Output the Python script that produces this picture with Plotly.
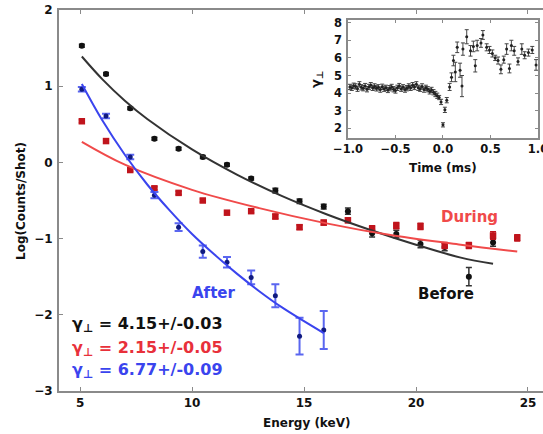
import plotly.graph_objects as go

# ---------------- main panel data ----------------
energy = [5.08, 6.16, 7.24, 8.32, 9.40, 10.48, 11.56, 12.64, 13.72, 14.80,
          15.88, 16.96, 18.04, 19.12, 20.20, 21.28, 22.36, 23.44, 24.52]

before_y = [1.53, 1.16, 0.71, 0.31, 0.18, 0.07, -0.03, -0.21, -0.37, -0.51,
            -0.58, -0.64, -0.93, -0.94, -1.07, -1.11, -1.50, -1.05]
before_err = [0.02, 0.02, 0.02, 0.02, 0.02, 0.02, 0.02, 0.02, 0.03, 0.03,
              0.03, 0.04, 0.05, 0.05, 0.05, 0.05, 0.12, 0.05]

during_y = [0.54, 0.28, -0.10, -0.34, -0.40, -0.50, -0.66, -0.64, -0.71, -0.85,
            -0.79, -0.76, -0.87, -0.83, -0.84, -1.09, -1.09, -0.96, -0.99]
during_err = [0.02, 0.02, 0.02, 0.02, 0.02, 0.02, 0.02, 0.02, 0.03, 0.03,
              0.03, 0.03, 0.04, 0.04, 0.04, 0.04, 0.04, 0.05, 0.04]

after_y = [0.96, 0.61, 0.07, -0.43, -0.85, -1.17, -1.31, -1.51, -1.75, -2.28, -2.20]
after_err = [0.03, 0.03, 0.03, 0.04, 0.05, 0.08, 0.07, 0.09, 0.15, 0.24, 0.25]

# fitted curves
fit_before_e = [5.08, 6, 7, 8, 10, 12, 14, 16, 18, 20, 22, 23.44]
fit_before_y = [1.39, 1.09, 0.81, 0.57, 0.17, -0.16, -0.44, -0.68, -0.89, -1.08, -1.25, -1.33]
fit_during_e = [5.08, 7, 10, 13, 16, 19, 22, 24.52]
fit_during_y = [0.27, -0.03, -0.36, -0.60, -0.80, -0.96, -1.08, -1.17]
fit_after_e = [5.08, 6, 7, 8, 9, 10, 11, 12, 13, 14, 15.88]
fit_after_y = [1.03, 0.55, 0.10, -0.29, -0.63, -0.94, -1.21, -1.46, -1.69, -1.90, -2.24]

x_ticks = [5, 10, 15, 20, 25]
y_ticks = [-3, -2, -1, 0, 1, 2]

# ---------------- inset data ----------------
t_inset = [-0.98, -0.96, -0.94, -0.92, -0.90, -0.88, -0.86, -0.84, -0.82, -0.80,
           -0.78, -0.76, -0.74, -0.72, -0.70, -0.68, -0.66, -0.64, -0.62, -0.60,
           -0.58, -0.56, -0.54, -0.52, -0.50, -0.48, -0.46, -0.44, -0.42, -0.40,
           -0.38, -0.36, -0.34, -0.32, -0.30, -0.28, -0.26, -0.24, -0.22, -0.20,
           -0.18, -0.16, -0.14, -0.12, -0.10, -0.08, -0.06, -0.04, -0.02, 0.00,
           0.02, 0.04, 0.07, 0.09, 0.11, 0.13, 0.15, 0.18, 0.20, 0.21,
           0.25, 0.29, 0.32, 0.34, 0.36, 0.40, 0.42, 0.46, 0.49, 0.52,
           0.55, 0.58, 0.61, 0.64, 0.67, 0.70, 0.72, 0.75, 0.79, 0.83,
           0.86, 0.90, 0.94, 0.98]
g_inset = [4.35, 4.30, 4.42, 4.38, 4.25, 4.50, 4.33, 4.28, 4.40, 4.22,
           4.35, 4.45, 4.30, 4.38, 4.27, 4.33, 4.20, 4.36, 4.25, 4.30,
           4.18, 4.28, 4.35, 4.22, 4.15, 4.30, 4.40, 4.25, 4.33, 4.20,
           4.28, 4.38, 4.30, 4.45, 4.35, 4.50, 4.30, 4.25, 4.38, 4.20,
           4.30, 4.22, 4.10, 4.18, 4.05, 3.95, 3.85, 3.75, 3.50, 2.20,
           3.05, 3.60, 4.35, 4.90, 5.85, 5.20, 6.60, 5.30, 4.40, 6.50,
           7.20, 6.40, 6.65, 5.55, 6.70, 6.85, 7.30, 6.60, 6.45, 6.25,
           6.00, 5.85, 5.35, 5.90, 6.50, 5.40, 6.70, 6.40, 5.80, 6.50,
           6.15, 6.30, 6.45, 5.60]
g_err = [0.15, 0.15, 0.15, 0.15, 0.15, 0.15, 0.15, 0.15, 0.15, 0.15,
         0.15, 0.15, 0.15, 0.15, 0.15, 0.15, 0.15, 0.15, 0.15, 0.15,
         0.15, 0.15, 0.15, 0.15, 0.15, 0.15, 0.15, 0.15, 0.15, 0.15,
         0.15, 0.15, 0.15, 0.15, 0.15, 0.15, 0.15, 0.15, 0.15, 0.15,
         0.15, 0.15, 0.15, 0.15, 0.15, 0.15, 0.15, 0.12, 0.15, 0.12,
         0.15, 0.15, 0.20, 0.25, 0.30, 0.55, 0.30, 0.40, 0.60, 0.35,
         0.40, 0.30, 0.30, 0.35, 0.30, 0.25, 0.25, 0.20, 0.20, 0.20,
         0.15, 0.20, 0.25, 0.20, 0.30, 0.25, 0.30, 0.25, 0.20, 0.30,
         0.20, 0.20, 0.20, 0.30]
inset_x_ticks = [-1.0, -0.5, 0.0, 0.5, 1.0]
inset_x_labels = ["−1.0", "−0.5", "0.0", "0.5", "1.0"]
inset_y_ticks = [2, 3, 4, 5, 6, 7, 8]

# ---------------- styling ----------------
FONT = "DejaVu Sans"
BLACK = "#111111"
RED_M = "#c0141c"
RED_L = "#f04a4a"
BLUE_L = "#3a44ee"
AXIS = "#8a8a8a"

W, H = 543, 434
L, R, T, B = 59, 0, 10, 43
PW, PH = W - L - R, H - T - B

def px(xp):
    return (xp - L) / PW

def py(yp):
    return (H - B - yp) / PH

fig = go.Figure()

# data points
fig.add_trace(go.Scatter(
    x=energy[:len(before_y)], y=before_y, mode="markers",
    marker=dict(symbol="circle", size=6, color=BLACK),
    error_y=dict(type="data", array=before_err, color="#333333", thickness=1.5, width=3),
    showlegend=False))
fig.add_trace(go.Scatter(
    x=energy, y=during_y, mode="markers",
    marker=dict(symbol="square", size=6.5, color=RED_M),
    error_y=dict(type="data", array=during_err, color=RED_M, thickness=1.5, width=3),
    showlegend=False))
fig.add_trace(go.Scatter(
    x=energy[:len(after_y)], y=after_y, mode="markers",
    marker=dict(symbol="circle", size=5, color="#101a80"),
    error_y=dict(type="data", array=after_err, color="#5a66f0", thickness=2, width=4),
    showlegend=False))

# fit curves
fig.add_trace(go.Scatter(x=fit_before_e, y=fit_before_y, mode="lines",
                         line=dict(color="#333333", width=2, shape="spline"), showlegend=False))
fig.add_trace(go.Scatter(x=fit_during_e, y=fit_during_y, mode="lines",
                         line=dict(color=RED_L, width=2, shape="spline"), showlegend=False))
fig.add_trace(go.Scatter(x=fit_after_e, y=fit_after_y, mode="lines",
                         line=dict(color=BLUE_L, width=2, shape="spline"), showlegend=False))

# inset
fig.add_trace(go.Scatter(
    x=t_inset, y=g_inset, mode="markers", xaxis="x2", yaxis="y2",
    marker=dict(symbol="circle", size=3, color="#222222"),
    error_y=dict(type="data", array=g_err, color="#444444", thickness=1, width=2),
    showlegend=False))

tick_font = dict(family=FONT, size=12, color="#111111", weight="bold")
inset_font = dict(family=FONT, size=11.5, color="#111111", weight="bold")

fig.update_layout(
    width=W, height=H,
    margin=dict(l=L, r=R, t=T, b=B, autoexpand=False),
    paper_bgcolor="white", plot_bgcolor="white",
    font=dict(family=FONT, color="#111111"),
    xaxis=dict(range=[4.06, 25.67], tickvals=x_ticks, ticks="inside", ticklen=4,
               tickcolor=AXIS, tickwidth=1, showline=True, linecolor=AXIS, linewidth=2,
               mirror="ticks", showgrid=False, zeroline=False, tickfont=tick_font,
               automargin=False),
    yaxis=dict(range=[-3, 2], tickvals=y_ticks, ticks="inside", ticklen=4,
               tickcolor=AXIS, tickwidth=1, showline=True, linecolor=AXIS, linewidth=2,
               showgrid=False, zeroline=False, tickfont=tick_font, ticklabelstandoff=2,
               automargin=False),
    xaxis2=dict(domain=[px(348), px(538)], anchor="y2", range=[-1.0, 1.0005],
                tickvals=inset_x_ticks, ticktext=inset_x_labels, ticks="inside", ticklen=3,
                tickcolor=AXIS, showline=True, linecolor=AXIS, linewidth=1.5, mirror="ticks",
                showgrid=False, zeroline=False, tickfont=inset_font,
                ticklabeloverflow="allow", automargin=False),
    yaxis2=dict(domain=[py(137.7), py(20)], anchor="x2", range=[1.47, 8.15],
                tickvals=inset_y_ticks, ticks="inside", ticklen=3,
                tickcolor=AXIS, showline=True, linecolor=AXIS, linewidth=1.5, mirror="ticks",
                showgrid=False, zeroline=False, tickfont=inset_font, ticklabelstandoff=2,
                automargin=False),
    shapes=[dict(type="rect", xref="paper", yref="paper", x0=px(348), x1=px(538),
                 y0=py(137.7), y1=py(20), fillcolor="white", line=dict(width=0),
                 layer="below")],
)

ann = []
# axis titles
ann.append(dict(text="Energy (keV)", xref="paper", yref="paper", x=px(306), y=py(423),
                showarrow=False, font=dict(family=FONT, size=12, color="#111111", weight="bold"),
                xanchor="center", yanchor="middle"))
ann.append(dict(text="Log(Counts/Shot)", xref="paper", yref="paper", x=px(21), y=py(201),
                showarrow=False, textangle=-90,
                font=dict(family=FONT, size=12, color="#111111", weight="bold"),
                xanchor="center", yanchor="middle"))
ann.append(dict(text="Time (ms)", xref="paper", yref="paper", x=px(443), y=py(168),
                showarrow=False, font=dict(family=FONT, size=12, color="#111111", weight="bold"),
                xanchor="center", yanchor="middle"))
ann.append(dict(text="γ<sub>⊥</sub>", xref="paper", yref="paper", x=px(317), y=py(80),
                showarrow=False, textangle=-90,
                font=dict(family=FONT, size=13, color="#111111", weight="bold"),
                xanchor="center", yanchor="middle"))
# series labels
ann.append(dict(text="After", x=10.98, y=-1.71, xref="x", yref="y", showarrow=False,
                font=dict(family=FONT, size=15, color=BLUE_L, weight="bold")))
ann.append(dict(text="During", x=22.37, y=-0.72, xref="x", yref="y", showarrow=False,
                font=dict(family=FONT, size=15, color=RED_L, weight="bold")))
ann.append(dict(text="Before", x=21.32, y=-1.73, xref="x", yref="y", showarrow=False,
                font=dict(family=FONT, size=15, color=BLACK, weight="bold")))
# gamma values
gamma_lines = [("γ<sub>⊥</sub> = 4.15+/-0.03", -2.13, BLACK),
               ("γ<sub>⊥</sub> = 2.15+/-0.05", -2.44, "#e8303a"),
               ("γ<sub>⊥</sub> = 6.77+/-0.09", -2.73, BLUE_L)]
for txt, yy, col in gamma_lines:
    ann.append(dict(text=txt, x=4.55, y=yy, xref="x", yref="y", showarrow=False,
                    xanchor="left", yanchor="middle",
                    font=dict(family=FONT, size=16, color=col, weight="bold")))

fig.update_layout(annotations=ann)

fig.write_html("out.html")
